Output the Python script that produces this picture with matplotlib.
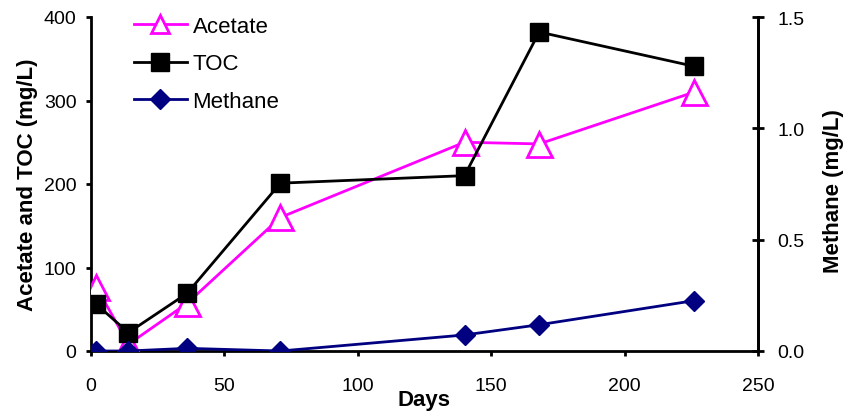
import matplotlib.pyplot as plt
from matplotlib.lines import Line2D

plt.rcParams['font.family'] = ['Liberation Sans', 'DejaVu Sans']

# data
days = [2, 14, 36, 71, 140, 168, 226]
acetate = [77, 8, 57, 160, 250, 248, 310]
toc = [56, 22, 69, 201, 210, 382, 341]
methane = [0.0, 0.0, 0.012, 0.0, 0.072, 0.118, 0.226]

fig = plt.figure(figsize=(8.45, 4.14), dpi=100)
ax = fig.add_axes([91/845, 1-352/414, (758-91)/845, (352-18)/414])
ax2 = ax.twinx()

ax.plot(days, acetate, color='#FF00FF', lw=2, marker='^', ms=18,
        mfc='white', mec='#FF00FF', mew=2, zorder=3)
ax.plot(days, toc, color='black', lw=2, marker='s', ms=13, zorder=4)
ax2.plot(days, methane, color='#000080', lw=2, marker='D', ms=10, zorder=3)

ax.set_xlim(0, 250)
ax.set_ylim(0, 400)
ax2.set_ylim(0, 1.5)
ax.set_xticks([0, 50, 100, 150, 200, 250])
ax.set_yticks([0, 100, 200, 300, 400])
ax2.set_yticks([0, 0.5, 1.0, 1.5])
ax2.set_yticklabels(['0.0', '0.5', '1.0', '1.5'])

for a in (ax, ax2):
    a.spines['top'].set_visible(False)
    for s in a.spines.values():
        s.set_linewidth(2)
ax2.spines['left'].set_visible(False)
ax2.spines['bottom'].set_visible(False)
ax.tick_params(axis='x', labelsize=14, width=2, length=3.5, pad=15)
ax.tick_params(axis='y', labelsize=14, width=2, length=3.5, pad=7)
ax2.tick_params(axis='y', labelsize=14, width=2, length=8.6, pad=9.5, direction='inout')

ax.set_xlabel('Days', fontsize=16, fontweight='bold')
ax.xaxis.set_label_coords(0.5, -0.113)
ax.set_ylabel('Acetate and TOC (mg/L)', fontsize=16, fontweight='bold')
ax.yaxis.set_label_coords(-0.0795, 0.5)
ax2.set_ylabel('Methane (mg/L)', fontsize=16, fontweight='bold', rotation=90)
ax2.yaxis.set_label_coords(1.098, 0.4805)

handles = [
    Line2D([], [], color='#FF00FF', lw=2, marker='^', ms=13, mfc='white', mec='#FF00FF', mew=2),
    Line2D([], [], color='black', lw=2, marker='s', ms=13),
    Line2D([], [], color='#000080', lw=2, marker='D', ms=10),
]
leg = ax.legend(handles, ['Acetate', 'TOC', 'Methane'], loc='upper left',
                bbox_to_anchor=(0.035, 1.063), frameon=False, fontsize=16,
                labelspacing=0.735, handlelength=2.35, handletextpad=0.27)

fig.savefig('out.png', dpi=100)
